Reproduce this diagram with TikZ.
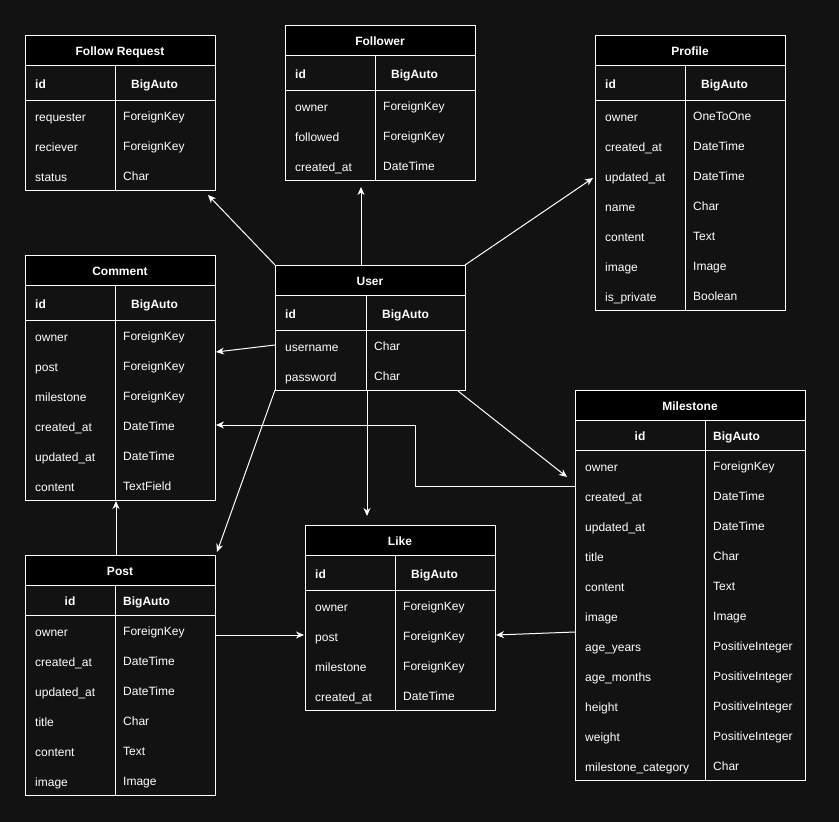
\documentclass[tikz,border=0pt]{standalone}
\usepackage{fontspec}
\setmainfont{Liberation Sans}
\usetikzlibrary{arrows.meta}
\definecolor{canvas}{HTML}{121212}
\tikzset{
  tabframe/.style={draw=white, line width=1pt, fill=canvas, inner sep=0pt, outer sep=0pt, anchor=north west},
  tabline/.style={draw=white, line width=1pt},
  ttl/.style={font=\fontsize{12}{14}\selectfont\bfseries, text=white, inner sep=0pt},
  fld/.style={font=\fontsize{12}{14}\selectfont, text=white, inner sep=0pt, anchor=base west},
  rel/.style={draw=white, line width=1pt, -{Stealth[length=8pt,width=7pt,inset=2.5pt]}},
}
% \ertab{name}{left}{top}{width}{key column width}{id row height}{title}{field/type list}{c|l id alignment}
\newcommand{\ertab}[9]{%
  \def\nrows{0}%
  \foreach \a/\b [count=\n] in {#8} {\xdef\nrows{\n}}%
  \pgfmathsetmacro\tabH{30+#6+30*\nrows}%
  \node[tabframe, minimum width=#4pt, minimum height=\tabH pt] (#1) at (#2,#3) {};
  \fill[black] (#2,#3) rectangle ++(#4,30);
  \draw[tabline] (#2,#3+30) -- ++(#4,0) (#2,#3+30+#6) -- ++(#4,0)
                 (#2+#5,#3+30) -- (#2+#5,#3+\tabH);
  \draw[tabline] (#1.north west) rectangle (#1.south east);
  \node[ttl, anchor=base] (#1-title) at (#2+#4/2,#3+20) {#7};
  \def\tmparg{#9}\def\tmpc{c}%
  \ifx\tmparg\tmpc
    \node[ttl, anchor=base] (#1-id) at (#2+#5/2,#3+30+#6/2+5.5) {id};
    \node[ttl, anchor=base west] (#1-idtype) at (#2+#5+8,#3+30+#6/2+5.5) {BigAuto};
  \else
    \node[ttl, anchor=base west] (#1-id) at (#2+10,#3+30+#6/2+5.5) {id};
    \node[ttl, anchor=base west] (#1-idtype) at (#2+#5+16,#3+30+#6/2+5.5) {BigAuto};
  \fi
  \foreach \a/\b [count=\i] in {#8} {
    \node[fld] (#1-f\i) at (#2+10,#3+30+#6+30*\i-15+6.5) {\a};
    \node[fld] (#1-t\i) at (#2+#5+8,#3+30+#6+30*\i-15+5.3) {\b};
  }%
}
\begin{document}
\begin{tikzpicture}[x=1pt,y=-1pt]
  \fill[canvas] (0,0) rectangle (839,822);
  \useasboundingbox (0,0) rectangle (839,822);

  \ertab{freq}{25}{35}{190}{90}{35}{Follow Request}
    {requester/ForeignKey, reciever/ForeignKey, status/Char}{l}
  \ertab{follower}{285}{25}{190}{90}{35}{Follower}
    {owner/ForeignKey, followed/ForeignKey, created\_at/DateTime}{l}
  \ertab{profile}{595}{35}{190}{90}{35}{Profile}
    {owner/OneToOne, created\_at/DateTime, updated\_at/DateTime, name/Char, content/Text, image/Image, is\_private/Boolean}{l}
  \ertab{comment}{25}{255}{190}{90}{35}{Comment}
    {owner/ForeignKey, post/ForeignKey, milestone/ForeignKey, created\_at/DateTime, updated\_at/DateTime, content/TextField}{l}
  \ertab{user}{275}{265}{190}{91}{35}{User}
    {username/Char, password/Char}{l}
  \ertab{milestone}{575}{390}{230}{130}{30}{Milestone}
    {owner/ForeignKey, created\_at/DateTime, updated\_at/DateTime, title/Char, content/Text, image/Image, age\_years/PositiveInteger, age\_months/PositiveInteger, height/PositiveInteger, weight/PositiveInteger, milestone\_category/Char}{c}
  \ertab{post}{25}{555}{190}{90}{30}{Post}
    {owner/ForeignKey, created\_at/DateTime, updated\_at/DateTime, title/Char, content/Text, image/Image}{c}
  \ertab{like}{305}{525}{190}{90}{35}{Like}
    {owner/ForeignKey, post/ForeignKey, milestone/ForeignKey, created\_at/DateTime}{l}

  % relations
  \draw[rel] (user.north west) -- ([shift={(-7,5)}]freq.south east);
  \draw[rel] ([shift={(86,0)}]user.north west) -- ([shift={(76,7)}]follower.south west);
  \draw[rel] (user.north east) -- ([shift={(-2,143)}]profile.north west);
  \draw[rel] ([shift={(0,80)}]user.north west) -- ([shift={(1,97)}]comment.north east);
  \draw[rel] (user.south west) -- ([shift={(2,-3)}]post.north east);
  \draw[rel] ([shift={(92,0)}]user.south west) -- ([shift={(62,-9)}]like.north west);
  \draw[rel] ([shift={(-7,1)}]user.south east) -- ([shift={(-8,87)}]milestone.north west);
  \draw[rel] ([shift={(0,96)}]milestone.north west) -- ++(-160,0) |- ([shift={(1,170)}]comment.north east);
  \draw[rel] ([shift={(91,0)}]post.north west) -- ([shift={(91,1)}]comment.south west);
  \draw[rel] ([shift={(0,80)}]post.north east) -- ([shift={(-1,110)}]like.north west);
  \draw[rel] ([shift={(0,242)}]milestone.north west) -- ([shift={(1,110)}]like.north east);
\end{tikzpicture}
\end{document}
